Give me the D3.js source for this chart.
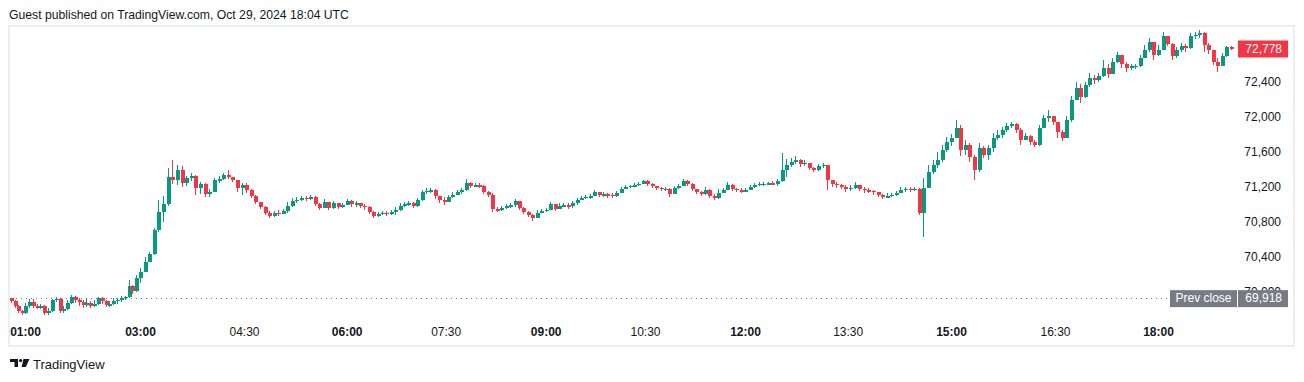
<!DOCTYPE html>
<html><head><meta charset="utf-8">
<script src="https://cdn.jsdelivr.net/npm/d3@7"></script>
<style>
html,body{margin:0;padding:0;background:#fff;}
svg{display:block;font-family:"Liberation Sans",Arial,sans-serif;}
</style></head><body>
<svg id="chart" width="1304" height="382"></svg>
<script>
const title = "Guest published on TradingView.com, Oct 29, 2024 18:04 UTC";
const brand = "TradingView";
const barStart = "00:44";
const barMinutes = 4;
const firstOpen = 69915;
const closes = [
69886,69828,69771,69748,69828,69874,69828,69817,69828,69748,
69771,69897,69909,69771,69794,69863,69932,69897,69874,69840,
69863,69828,69851,69920,69886,69840,69851,69886,69897,69920,
69932,70058,70000,70149,70218,70332,70424,70699,70905,70997,
71306,71272,71386,71237,71295,71317,71180,71226,71111,71134,
71272,71283,71329,71306,71272,71180,71214,71157,71088,71020,
70962,70894,70859,70894,70882,70917,70974,71031,71043,71066,
71054,71077,70997,70951,71020,70951,71008,70962,70985,71031,
70997,71008,70974,70962,70905,70859,70882,70894,70882,70905,
70928,70974,70997,71008,70974,71043,71134,71146,71157,71088,
71043,71020,71077,71100,71134,71157,71237,71203,71214,71203,
71134,71100,70939,70928,70951,70974,70985,71031,70951,70905,
70871,70836,70894,70917,70928,70997,70939,70974,70985,70974,
71008,71043,71066,71077,71088,71134,71100,71111,71100,71088,
71123,71169,71192,71203,71214,71226,71260,71226,71203,71180,
71169,71169,71111,71180,71203,71260,71226,71169,71134,71111,
71157,71088,71066,71123,71157,71214,71169,71157,71146,71157,
71192,71214,71226,71226,71237,71226,71260,71386,71444,71478,
71501,71455,71467,71409,71386,71432,71444,71272,71226,71214,
71192,71169,71180,71214,71169,71157,71146,71134,71100,71077,
71088,71100,71123,71157,71169,71157,71169,70894,71180,71363,
71444,71501,71615,71707,71753,71867,71615,71673,71535,71386,
71638,71558,71638,71753,71787,71845,71890,71913,71845,71730,
71776,71707,71673,71867,71982,72005,71936,71822,71753,71959,
72188,72326,72222,72360,72440,72417,72463,72555,72486,72623,
72704,72601,72555,72578,72578,72669,72761,72853,72704,72761,
72921,72830,72692,72761,72807,72784,72921,72933,72956,72818,
72761,72623,72578,72692,72795,72778];
const highs = [
69920,69897,69840,69782,69863,69909,69909,69851,69851,69840,
69805,69909,69932,69920,69828,69897,69954,69943,69920,69897,
69909,69886,69897,69932,69932,69897,69886,69920,69920,69943,
69943,70126,70069,70184,70264,70390,70447,70722,71043,71088,
71409,71501,71444,71432,71317,71352,71329,71249,71237,71169,
71295,71317,71352,71386,71306,71272,71237,71237,71169,71100,
71020,70974,70917,70917,70928,70939,71020,71066,71077,71088,
71088,71100,71088,71008,71054,70997,71031,70997,71008,71054,
71043,71031,71008,70997,70974,70917,70905,70917,70917,70928,
70962,71008,71020,71031,71020,71066,71157,71180,71180,71169,
71088,71077,71100,71134,71157,71180,71283,71249,71237,71237,
71214,71146,71123,70962,70974,70997,71008,71054,70997,70962,
70917,70882,70928,70939,70951,71020,70997,71008,71008,71008,
71031,71066,71088,71100,71111,71157,71134,71134,71123,71123,
71146,71192,71214,71214,71237,71249,71272,71272,71237,71203,
71192,71192,71180,71203,71226,71283,71272,71237,71169,71146,
71192,71169,71111,71169,71180,71249,71226,71180,71180,71180,
71214,71237,71249,71249,71249,71260,71283,71581,71512,71524,
71547,71512,71501,71455,71421,71455,71467,71432,71272,71249,
71226,71214,71214,71249,71214,71192,71180,71157,71134,71111,
71123,71123,71146,71192,71192,71192,71192,71180,71295,71444,
71501,71592,71673,71764,71799,71959,71902,71730,71696,71558,
71696,71661,71673,71810,71845,71879,71925,71936,71925,71867,
71810,71787,71730,71902,72016,72074,71993,71925,71845,72005,
72234,72394,72371,72394,72497,72474,72497,72646,72601,72669,
72738,72704,72623,72601,72601,72704,72818,72898,72818,72818,
72967,72921,72841,72795,72841,72830,72956,72967,72990,72967,
72841,72738,72669,72726,72807,72807];
const lows = [
69863,69805,69748,69725,69737,69805,69805,69794,69794,69725,
69725,69760,69874,69748,69748,69782,69851,69863,69828,69805,
69817,69805,69817,69840,69851,69817,69817,69840,69851,69874,
69897,69920,69966,69989,70092,70241,70332,70413,70676,70791,
70974,71226,71214,71192,71203,71260,71100,71111,71077,71077,
71134,71237,71272,71283,71249,71134,71100,71123,71066,70997,
70939,70871,70836,70848,70859,70882,70894,70962,71008,71031,
71031,71043,70974,70928,70951,70928,70939,70939,70951,70985,
70962,70962,70951,70928,70882,70836,70848,70871,70859,70871,
70871,70917,70962,70974,70951,70962,71031,71111,71123,71054,
71008,70985,71020,71066,71100,71111,71146,71180,71192,71180,
71111,71077,70905,70905,70917,70939,70951,70962,70928,70882,
70848,70802,70836,70894,70905,70928,70917,70939,70962,70939,
70951,70985,71043,71054,71054,71088,71077,71077,71066,71066,
71077,71123,71169,71180,71192,71203,71226,71203,71180,71157,
71146,71146,71077,71111,71169,71203,71203,71146,71111,71088,
71100,71066,71043,71054,71123,71157,71146,71134,71123,71134,
71157,71180,71203,71203,71214,71214,71203,71249,71306,71421,
71455,71421,71432,71386,71363,71375,71409,71157,71192,71180,
71169,71134,71146,71169,71146,71123,71123,71100,71077,71054,
71066,71077,71088,71123,71134,71134,71146,70871,70619,71249,
71340,71409,71478,71592,71661,71776,71547,71558,71478,71272,
71363,71524,71501,71592,71730,71753,71822,71867,71810,71673,
71730,71673,71650,71661,71867,71936,71902,71753,71718,71753,
71936,72188,72154,72211,72337,72371,72394,72452,72440,72486,
72612,72555,72509,72532,72543,72566,72669,72738,72646,72692,
72761,72807,72646,72669,72738,72738,72772,72887,72898,72738,
72715,72589,72509,72578,72681,72761];
const priceTicks = [70000,70400,70800,71200,71600,72000,72400];
const timeTicks = ["01:00","03:00","04:30","06:00","07:30","09:00","10:30","12:00","13:30","15:00","16:30","18:00"];
const lastPrice = 72778;
const prevClose = 69918;
const prevCloseLabel = "Prev close";

const UP = "#089981", DOWN = "#f23645", TXT = "#131722", GREY = "#787b86";
const parseT = s => { const [h, m] = s.split(":").map(Number); return new Date(Date.UTC(2024, 9, 29, h, m)); };

const svg = d3.select("#chart");

// scales (x is piecewise to follow the gaps in the session)
const xAnchors = ["00:44", ...timeTicks, "19:04"].map(parseT);
const x = d3.scaleUtc().domain(xAnchors)
  .range([11, 25, 140, 244, 346.7, 445.7, 545.7, 645, 745, 847.7, 951, 1055, 1158, 1231]);
const y = d3.scaleLinear().domain([70000, 72400]).range([291, 81.5]);

const t0 = parseT(barStart).getTime();
const bars = closes.map((c, i) => {
  const o = i === 0 ? firstOpen : closes[i - 1];
  return { t: new Date(t0 + i * barMinutes * 60000), o, c,
           h: Math.max(highs[i], o, c), l: Math.min(lows[i], o, c) };
});

// title
svg.append("text").attr("x", 9).attr("y", 19).attr("font-size", 12.2).attr("fill", TXT).text(title);

// frame
svg.append("rect").attr("x", 9).attr("y", 26).attr("width", 1285).attr("height", 320)
  .attr("fill", "none").attr("stroke", "#eceef3").attr("stroke-width", 2);

// prev close dotted line
svg.append("line").attr("x1", 11).attr("x2", 1232)
  .attr("y1", Math.round(y(prevClose)) + 0.5).attr("y2", Math.round(y(prevClose)) + 0.5)
  .attr("stroke", GREY).attr("stroke-width", 1).attr("stroke-dasharray", "1 4");

// candles
const g = svg.append("g").attr("shape-rendering", "crispEdges");
const cg = g.selectAll("g.c").data(bars).join("g").attr("class", "c");
cg.append("line")
  .attr("x1", d => Math.round(x(d.t)) + 0.5).attr("x2", d => Math.round(x(d.t)) + 0.5)
  .attr("y1", d => y(d.h)).attr("y2", d => y(d.l))
  .attr("stroke", d => d.c >= d.o ? UP : DOWN).attr("stroke-width", 1.4);
cg.append("rect")
  .attr("x", d => Math.round(x(d.t)) - 1).attr("width", 4)
  .attr("y", d => Math.min(y(d.o), y(d.c)))
  .attr("height", d => Math.max(1.5, Math.abs(y(d.o) - y(d.c))))
  .attr("fill", d => d.c >= d.o ? UP : DOWN);

// x axis
const xAxis = svg.append("g").attr("transform", "translate(0,320)")
  .call(d3.axisBottom(x).tickValues(timeTicks.map(parseT)).tickFormat(d3.utcFormat("%H:%M")).tickSize(0));
xAxis.select(".domain").remove();
xAxis.selectAll("text").attr("y", 16).attr("dy", 0).attr("font-size", 12).attr("fill", TXT)
  .attr("font-family", "'Liberation Sans',Arial,sans-serif")
  .attr("font-weight", d => d.getUTCMinutes() === 0 ? "bold" : "normal");

// y axis
const yAxis = svg.append("g").attr("transform", "translate(1281,0)")
  .call(d3.axisRight(y).tickValues(priceTicks).tickFormat(d3.format(",")).tickSize(0));
yAxis.select(".domain").remove();
yAxis.selectAll("text").attr("x", 0).attr("dy", "0.35em").attr("text-anchor", "end")
  .attr("font-size", 12).attr("fill", TXT).attr("font-family", "'Liberation Sans',Arial,sans-serif");

// last price label
const lp = svg.append("g");
lp.append("rect").attr("x", 1238).attr("y", y(lastPrice) - 8).attr("width", 50).attr("height", 17).attr("fill", DOWN);
lp.append("text").attr("x", 1282).attr("y", y(lastPrice)).attr("dy", "0.36em").attr("text-anchor", "end")
  .attr("font-size", 12).attr("fill", "#fff").text(d3.format(",")(lastPrice));

// prev close labels
const pc = svg.append("g");
pc.append("rect").attr("x", 1170).attr("y", y(prevClose) - 8).attr("width", 67).attr("height", 17).attr("fill", GREY);
pc.append("rect").attr("x", 1238).attr("y", y(prevClose) - 8).attr("width", 50).attr("height", 17).attr("fill", GREY);
pc.append("text").attr("x", 1203.5).attr("y", y(prevClose)).attr("dy", "0.36em").attr("text-anchor", "middle")
  .attr("font-size", 12).attr("fill", "#fff").text(prevCloseLabel);
pc.append("text").attr("x", 1282).attr("y", y(prevClose)).attr("dy", "0.36em").attr("text-anchor", "end")
  .attr("font-size", 12).attr("fill", "#fff").text(d3.format(",")(prevClose));

// footer logo + brand
const logo = svg.append("g").attr("fill", TXT);
logo.append("path").attr("d", "M10,359 H18 V367 H14.5 V362 H10 Z");
logo.append("circle").attr("cx", 20.6).attr("cy", 360.6).attr("r", 1.7);
logo.append("path").attr("d", "M23.5,359 H29.5 L25.8,367 H21.6 Z");
svg.append("text").attr("x", 33).attr("y", 368.5).attr("font-size", 13).attr("fill", TXT).text(brand);
</script>
</body></html>
